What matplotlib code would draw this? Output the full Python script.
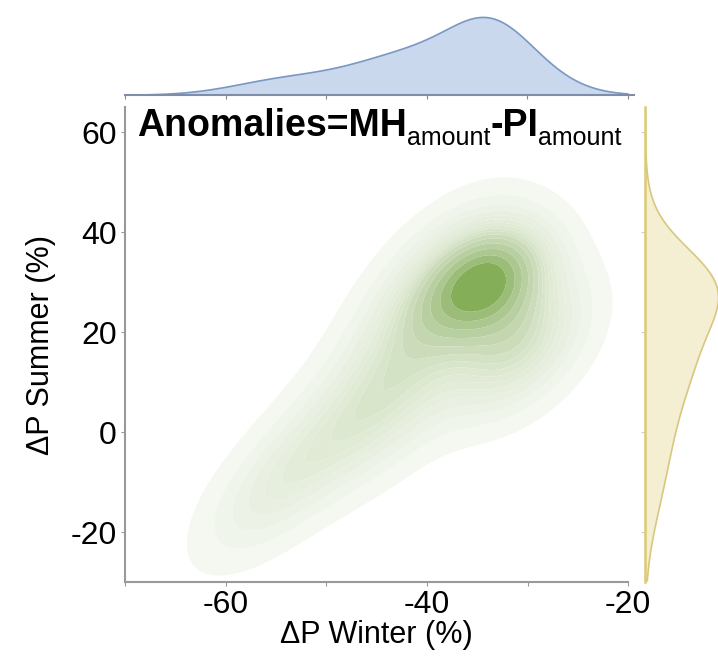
import numpy as np
import matplotlib
matplotlib.use("Agg")
import matplotlib.pyplot as plt
from matplotlib.colors import LinearSegmentedColormap
from matplotlib.transforms import IdentityTransform

plt.rcParams['font.family'] = ['Liberation Sans', 'DejaVu Sans']

# gaussian components (winter, summer anomalies in %)
comp_x = [-34.0, -40.0, -31.0, -45.0, -55.0]
comp_y = [30.0, 26.0, 17.0, 5.0, -11.0]
comp_sx = [4.0, 5.0, 4.5, 6.0, 5.0]
comp_sy = [7.5, 11.5, 9.0, 11.0, 10.0]
comp_rho = [0.35, 0.6, 0.45, 0.6, 0.65]
comp_w = [0.30, 0.20, 0.18, 0.22, 0.10]

xlim = (-70, -20)
ylim = (-30, 65)

# density on a grid
gx = np.linspace(-85, -5, 320)
gy = np.linspace(-60, 95, 420)
X, Y = np.meshgrid(gx, gy)
Z = np.zeros_like(X)
for mx, my, sx, sy, r, w in zip(comp_x, comp_y, comp_sx, comp_sy, comp_rho, comp_w):
    dx = (X - mx) / sx
    dy = (Y - my) / sy
    q = (dx**2 - 2*r*dx*dy + dy**2) / (1 - r**2)
    Z += w * np.exp(-0.5*q) / (2*np.pi*sx*sy*np.sqrt(1 - r**2))

# iso-proportion levels like seaborn
zs = np.sort(Z.ravel())[::-1]
cum = np.cumsum(zs)
cum = cum / cum[-1]
props = np.linspace(0.04, 0.92, 16)
levels = sorted(set([zs[np.searchsorted(cum, 1 - p)] for p in props]))
levels.append(Z.max() * 1.01)

fig = plt.figure(figsize=(7.18, 6.58), dpi=100)
ax = fig.add_axes([0.174, 0.1155, 0.701, 0.7215])
ax_top = fig.add_axes([0.174, 0.856, 0.709, 0.123])
ax_right = fig.add_axes([0.898, 0.1155, 0.102, 0.7215])

cmap = LinearSegmentedColormap.from_list('g', ['#f6f9f3', '#dde8d1', '#b0c996', '#78a646'])
ax.contourf(X, Y, Z, levels=levels, cmap=cmap, antialiased=True)
ax.set_xlim(xlim)
ax.set_ylim(ylim)
ax.set_xticks([-70, -60, -50, -40, -30, -20])
ax.set_xticklabels(['', '-60', '', '-40', '', '-20'])
ax.set_yticks([-20, 0, 20, 40, 60])
ax.set_yticklabels(['-20', '0', '20', '40', '60'])
ax.tick_params(labelsize=23, length=3, color='#999999', pad=3)
for s in ['top', 'right']:
    ax.spines[s].set_visible(False)
for s in ['left', 'bottom']:
    ax.spines[s].set_color('#999999')
    ax.spines[s].set_linewidth(1.5)
ax.set_xlabel('ΔP Winter (%)', fontsize=22, labelpad=0)
ax.set_ylabel('ΔP Summer (%)', fontsize=22, labelpad=10)

# title with small subscripts, pieces placed one after another
fig.canvas.draw()
renderer = fig.canvas.get_renderer()
x0, base = 137, 658 - 136
pieces = [('Anomalies=MH', 27, 'bold', 0), ('amount', 18, 'normal', -9),
          ('-PI', 27, 'bold', 0), ('amount', 18, 'normal', -9)]
for s, size, weight, dy in pieces:
    t = fig.text(x0, base + dy, s, transform=IdentityTransform(), fontsize=size,
                 fontweight=weight, va='baseline', ha='left')
    x0 = t.get_window_extent(renderer).x1

# marginals
dens_x = Z.sum(axis=0)
dens_y = Z.sum(axis=1)
mask_x = (gx >= xlim[0]) & (gx <= xlim[1])
ax_top.fill_between(gx[mask_x], 0, dens_x[mask_x], color='#c9d8ec', edgecolor='#7b97c4', linewidth=1.2)
ax_top.set_xlim(-70, -19.4)
ax_top.set_ylim(0, dens_x.max() * 1.04)
ax_top.set_xticks([-70, -60, -50, -40, -30, -20])
ax_top.tick_params(labelbottom=False, left=False, labelleft=False, length=3, color='#888888')
for s in ['top', 'right', 'left']:
    ax_top.spines[s].set_visible(False)
ax_top.spines['bottom'].set_color('#7f8ea8')
ax_top.spines['bottom'].set_linewidth(1.5)

mask_y = (gy >= ylim[0]) & (gy <= ylim[1])
ax_right.fill_betweenx(gy[mask_y], 0, dens_y[mask_y], color='#f4eed2', edgecolor='#d8c77e', linewidth=1.2)
ax_right.set_ylim(ylim)
ax_right.set_xlim(0, dens_y.max() * 1.0)
ax_right.set_yticks([-20, 0, 20, 40, 60])
ax_right.tick_params(labelleft=False, bottom=False, labelbottom=False, length=3, color='#cccccc')
for s in ['top', 'right', 'bottom']:
    ax_right.spines[s].set_visible(False)
ax_right.spines['left'].set_color('#dccb72')
ax_right.spines['left'].set_linewidth(1.8)

fig.savefig('out.png', dpi=100)
